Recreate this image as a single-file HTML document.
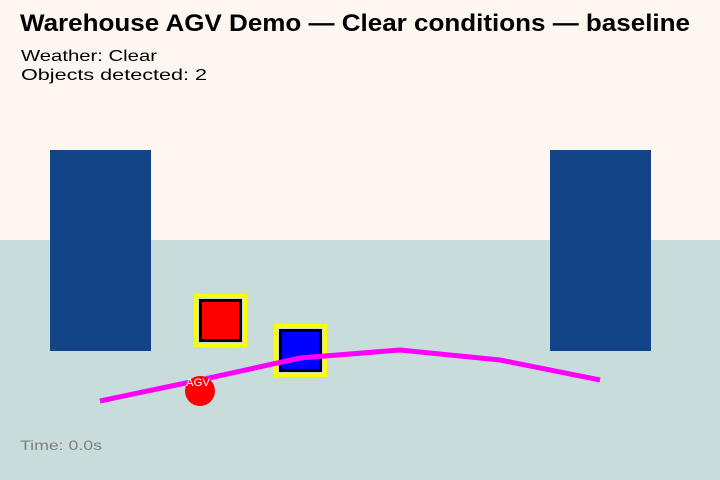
<!DOCTYPE html>
<html><head><style>
html,body{margin:0;padding:0;}
body{width:720px;height:480px;position:relative;overflow:hidden;background:#fdf6f1;font-family:"Liberation Sans",sans-serif;}
</style></head><body>
<svg width="720" height="480" style="position:absolute;left:0;top:0">
<rect x="0" y="0" width="720" height="240" fill="#fdf6f1"/>
<rect x="0" y="240" width="720" height="240" fill="#c8dcdc"/>
<rect x="50" y="150" width="101" height="201" fill="#134487"/>
<rect x="550" y="150" width="101" height="201" fill="#134487"/>
<rect x="196" y="296" width="49" height="49" fill="none" stroke="#ffff00" stroke-width="4"/>
<rect x="200.5" y="300.5" width="40" height="40" fill="#ff0000" stroke="#000" stroke-width="3"/>
<rect x="276" y="326" width="49" height="49" fill="none" stroke="#ffff00" stroke-width="4"/>
<rect x="280.5" y="330.5" width="40" height="40" fill="#0000ff" stroke="#000" stroke-width="3"/>
<polyline points="100,401 200,380 300,358 400,350 500,360 600,380" fill="none" stroke="#ff00ff" stroke-width="5"/>
<circle cx="200" cy="391" r="15" fill="#ff0000"/>
<text x="186" y="386" font-size="11" fill="#fff" textLength="24" lengthAdjust="spacingAndGlyphs" font-family="Liberation Sans,sans-serif">AGV</text>
<text x="20" y="31" font-size="24" font-weight="bold" fill="#000" textLength="670" lengthAdjust="spacingAndGlyphs" font-family="Liberation Sans,sans-serif">Warehouse AGV Demo — Clear conditions — baseline</text>
<text x="21" y="61" font-size="16" fill="#000" textLength="136" lengthAdjust="spacingAndGlyphs" font-family="Liberation Sans,sans-serif">Weather: Clear</text>
<text x="21" y="80" font-size="16" fill="#000" textLength="186" lengthAdjust="spacingAndGlyphs" font-family="Liberation Sans,sans-serif">Objects detected: 2</text>
<text x="20" y="450" font-size="14" fill="#808080" textLength="82" lengthAdjust="spacingAndGlyphs" font-family="Liberation Sans,sans-serif">Time: 0.0s</text>
</svg>
</body></html>
